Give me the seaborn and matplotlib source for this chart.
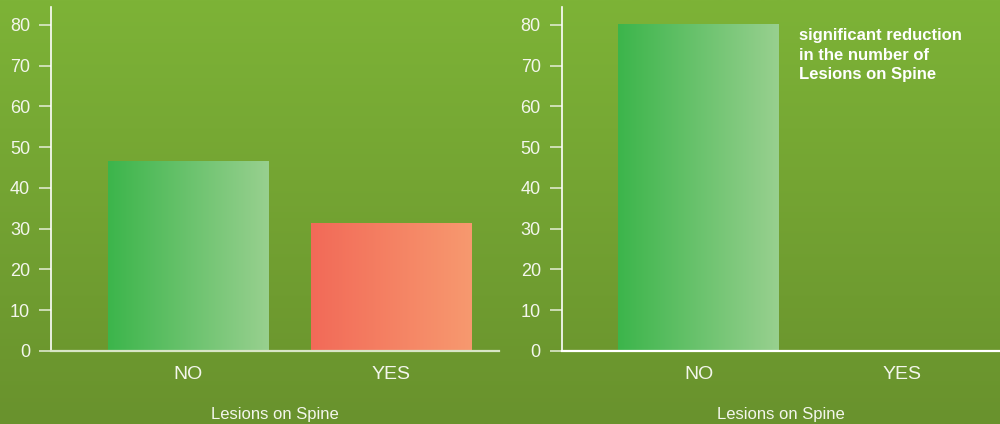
import matplotlib
matplotlib.use("Agg")
import matplotlib.pyplot as plt
import matplotlib.colors as mcolors
import seaborn as sns
import numpy as np

# data
categories = ["NO", "YES"]
before_values = [46.4, 31.2]
after_values = [80, 0]
yticks = [0, 10, 20, 30, 40, 50, 60, 70, 80]
x_title = "Lesions on Spine"
note_text = "significant reduction\nin the number of\nLesions on Spine"

# gradient (left -> right) for each category
bar_grads = {
    "NO": ("#3cb54b", "#98d08f"),
    "YES": ("#f26a58", "#f7996f"),
}
bg_top = "#7db337"
bg_bottom = "#69922d"
text_col = "#f3f6ec"

sns.set_theme(style="white")
plt.rcParams["font.family"] = ["Liberation Sans", "DejaVu Sans"]


def gradient_bars(ax, cats):
    # swap every seaborn bar for a horizontal gradient drawn in the same box
    for patch, cat in zip(ax.patches, cats):
        x0, y0 = patch.get_x(), patch.get_y()
        w, h = patch.get_width(), patch.get_height()
        patch.set_facecolor("none")
        patch.set_edgecolor("none")
        if h <= 0:
            continue
        cmap = mcolors.LinearSegmentedColormap.from_list(cat, bar_grads[cat])
        grad = np.linspace(0, 1, 256).reshape(1, -1)
        ax.imshow(grad, cmap=cmap, extent=[x0, x0 + w, y0, y0 + h],
                  aspect="auto", zorder=2, interpolation="bicubic")


def style_axis(ax, xlim, bottom_col):
    ax.set_facecolor("none")
    ax.set_xlim(*xlim)
    ax.set_ylim(0, 84.4)
    ax.set_yticks(yticks)
    for s in ["top", "right"]:
        ax.spines[s].set_visible(False)
    ax.spines["left"].set_color("white")
    ax.spines["left"].set_linewidth(1.2)
    ax.spines["bottom"].set_color(bottom_col)
    ax.spines["bottom"].set_linewidth(1.6)
    ax.tick_params(axis="y", length=9, width=1.1, color="#e6eed8", pad=6,
                   labelsize=13, labelcolor=text_col, left=True)
    ax.tick_params(axis="x", length=0, pad=11, labelsize=14,
                   labelcolor=text_col)
    ax.set_xlabel(x_title, fontsize=12, color=text_col, labelpad=17)
    ax.set_ylabel("")
    ax.grid(False)


fig = plt.figure(figsize=(10, 4.24), dpi=100)

# background gradient over the whole figure
bg = fig.add_axes([0, 0, 1, 1], zorder=-10)
bg_cmap = mcolors.LinearSegmentedColormap.from_list("bg", [bg_top, bg_bottom])
bg.imshow(np.linspace(0, 1, 256).reshape(-1, 1), cmap=bg_cmap,
          aspect="auto", extent=[0, 1, 0, 1])
bg.set_axis_off()

ax1 = fig.add_axes([0.051, 0.1722, 0.448, 0.8113])
sns.barplot(x=categories, y=before_values, width=0.79, ax=ax1)
gradient_bars(ax1, categories)
style_axis(ax1, (-0.677, 1.53), "#d9e6c6")

ax2 = fig.add_axes([0.5617, 0.1722, 0.4383, 0.8113])
sns.barplot(x=categories, y=after_values, width=0.79, ax=ax2)
gradient_bars(ax2, categories)
style_axis(ax2, (-0.674, 1.485), "white")
ax2.text(0.494, 79.3, note_text, color="white", fontsize=12,
         fontweight="bold", va="top", ha="left", linespacing=1.4)

fig.savefig("out.png", dpi=100)
